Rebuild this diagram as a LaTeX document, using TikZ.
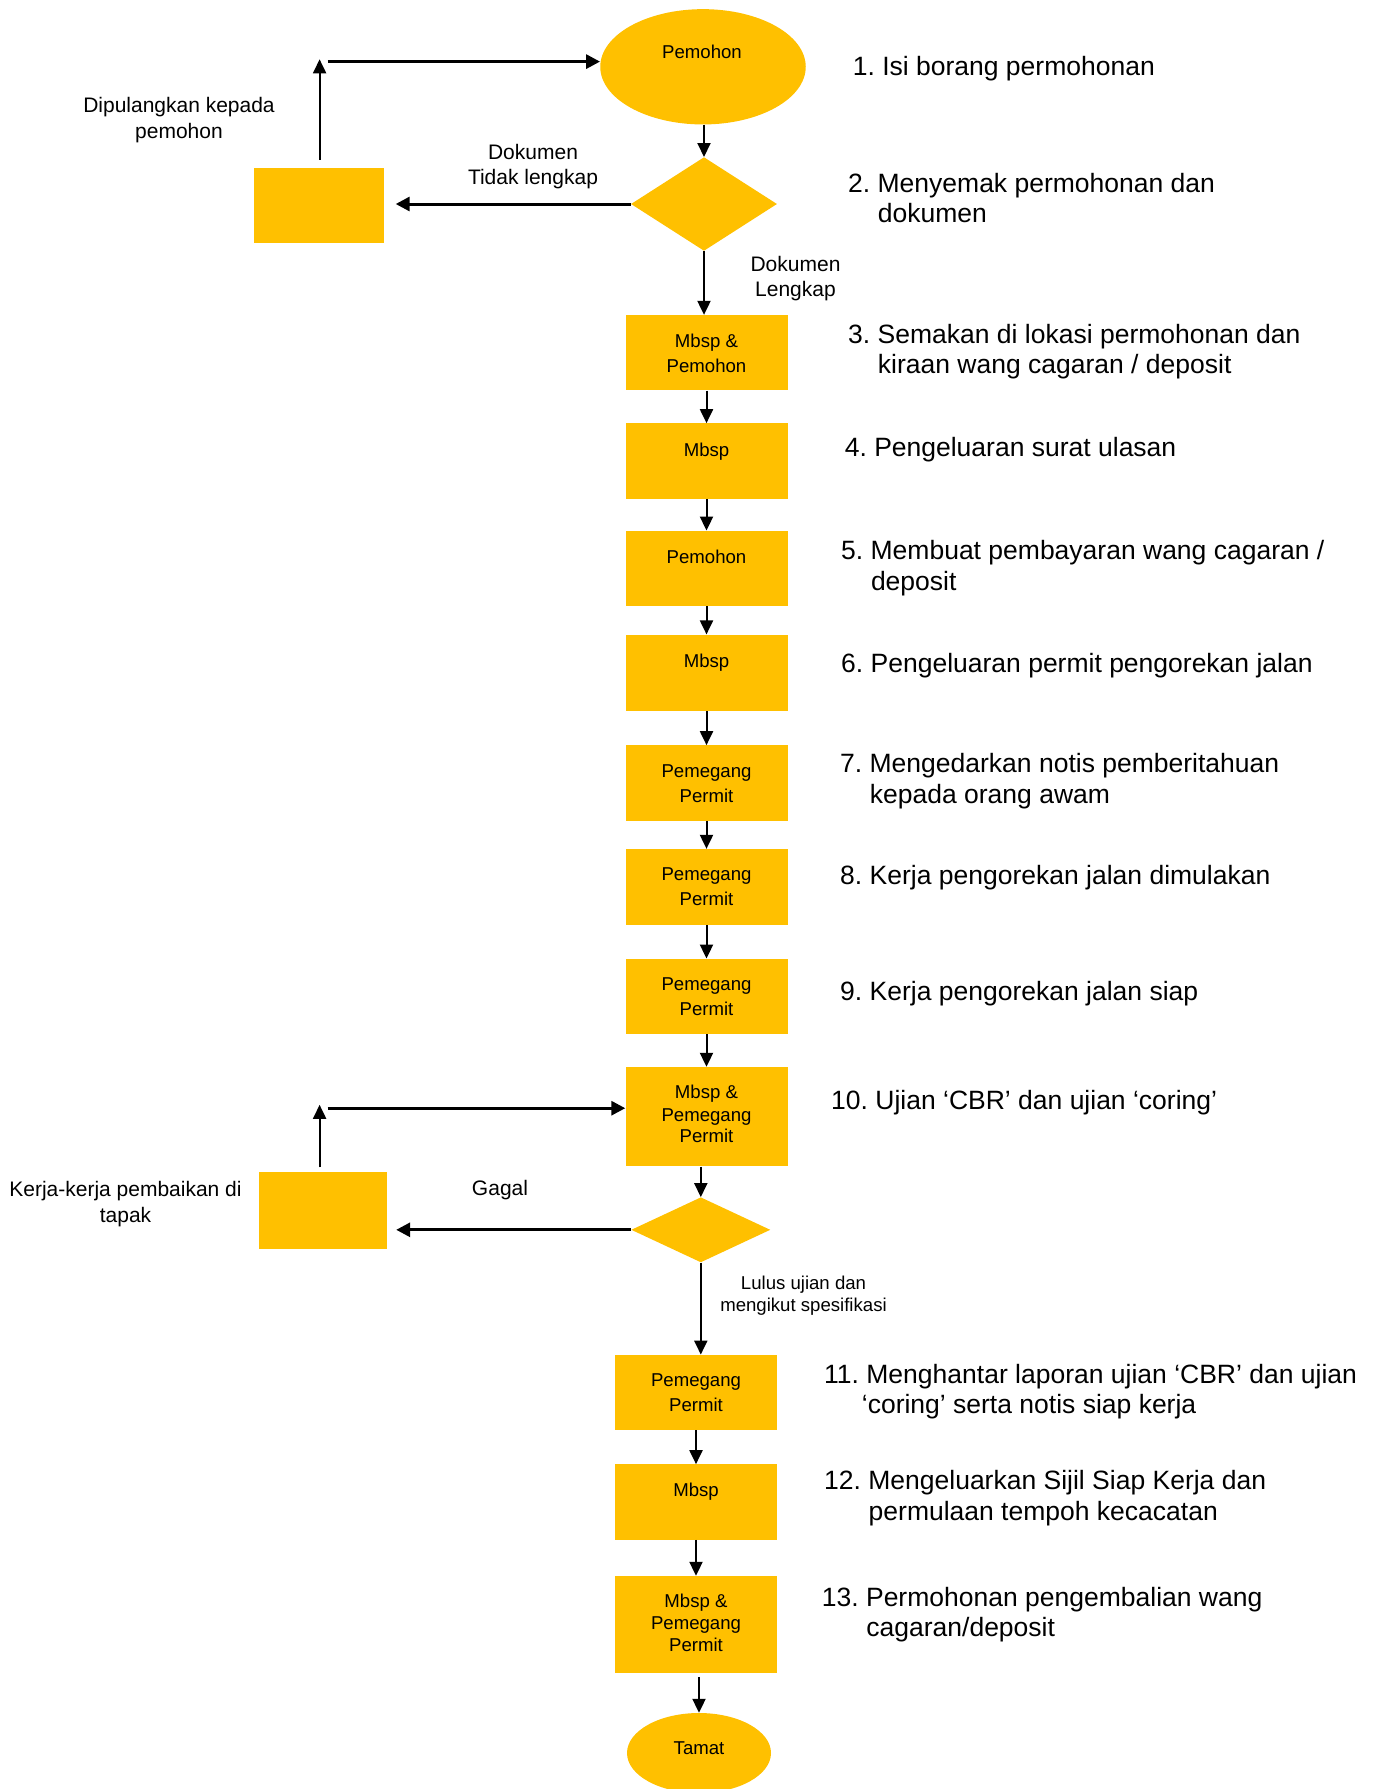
\documentclass[tikz,border=0pt]{standalone}
\usepackage{fontspec}
\setmainfont{Liberation Sans}
\usetikzlibrary{arrows.meta,shapes.geometric}
\definecolor{gold}{HTML}{FFC000}
\frenchspacing
\begin{document}
\begin{tikzpicture}[x=1pt,y=-1pt,
  box/.style={rectangle, fill=gold, draw=none, minimum width=162pt, inner sep=0pt},
  sidebox/.style={rectangle, fill=gold, draw=none, inner sep=0pt},
  oval/.style={ellipse, fill=gold, draw=none, inner sep=0pt},
  dec/.style={diamond, fill=gold, draw=none, inner sep=0pt},
  bt/.style={font=\fontsize{18.6pt}{22pt}\selectfont, anchor=base, inner sep=0pt},
  lb/.style={font=\fontsize{21pt}{25pt}\selectfont, anchor=base, inner sep=0pt},
  st/.style={font=\fontsize{26.5pt}{31pt}\selectfont, anchor=base west, inner sep=0pt},
  arr/.style={-{Triangle[length=14pt,width=13pt]}, line width=2pt},
  harr/.style={-{Triangle[length=14pt,width=14pt]}, line width=3pt},
]
\useasboundingbox (0,0) rectangle (1381,1789);

% shapes
\node[oval, minimum width=205.5pt, minimum height=115.3pt] (e1) at (703,66.8) {};
\node[dec, minimum width=146pt, minimum height=93.6pt] (d1) at (704,204) {};
\node[sidebox, minimum width=130pt, minimum height=75.3pt] (L1) at (318.5,205.5) {};
\node[box, minimum height=75.3pt] (b3) at (706.5,352.7) {};
\node[box, minimum height=75.3pt] (b4) at (706.5,461) {};
\node[box, minimum height=75.3pt] (b5) at (706.5,568.4) {};
\node[box, minimum height=76.4pt] (b6) at (706.5,672.8) {};
\node[box, minimum height=75.3pt] (b7) at (706.5,783) {};
\node[box, minimum height=75.5pt] (b8) at (706.5,886.8) {};
\node[box, minimum height=75.3pt] (b9) at (706.5,996.4) {};
\node[box, minimum height=99.4pt] (b10) at (706.5,1116.7) {};
\node[dec, minimum width=139pt, minimum height=65pt] (d2) at (700.8,1229.8) {};
\node[sidebox, minimum width=128pt, minimum height=76.6pt] (L2) at (323,1210.3) {};
\node[box, minimum height=75.3pt] (b11) at (696,1392.4) {};
\node[box, minimum height=75.3pt] (b12) at (696,1502) {};
\node[box, minimum height=97pt] (b13) at (696,1624.5) {};
\node[oval, minimum width=144pt, minimum height=80pt] (eT) at (699,1753) {};

% texts in shapes
\node[bt] (t1) at (702,58.5) {Pemohon};
\node[bt] (t3a) at (706.5,347) {Mbsp \&};
\node[bt] (t3b) at (706.5,372) {Pemohon};
\node[bt] (t4) at (706.5,456) {Mbsp};
\node[bt] (t5) at (706.5,563.5) {Pemohon};
\node[bt] (t6) at (706.5,667.5) {Mbsp};
\node[bt] (t7a) at (706.5,777) {Pemegang};
\node[bt] (t7b) at (706.5,802) {Permit};
\node[bt] (t8a) at (706.5,880.7) {Pemegang};
\node[bt] (t8b) at (706.5,905.8) {Permit};
\node[bt] (t9a) at (706.5,990.5) {Pemegang};
\node[bt] (t9b) at (706.5,1015.6) {Permit};
\node[bt] (t10a) at (706.5,1098.7) {Mbsp \&};
\node[bt] (t10b) at (706.5,1121.7) {Pemegang};
\node[bt] (t10c) at (706.5,1142.3) {Permit};
\node[bt] (t11a) at (696,1386.7) {Pemegang};
\node[bt] (t11b) at (696,1411.7) {Permit};
\node[bt] (t12) at (696,1496) {Mbsp};
\node[bt] (t13a) at (696,1607) {Mbsp \&};
\node[bt] (t13b) at (696,1629.5) {Pemegang};
\node[bt] (t13c) at (696,1651) {Permit};
\node[bt] (tT) at (699,1754.5) {Tamat};

% labels
\node[lb] (l1a) at (179,112.5) {Dipulangkan kepada};
\node[lb] (l1b) at (179,138.7) {pemohon};
\node[lb] (l2a) at (533,159.3) {Dokumen};
\node[lb] (l2b) at (533,184.5) {Tidak lengkap};
\node[lb] (l3a) at (795.5,271) {Dokumen};
\node[lb] (l3b) at (795.5,296.2) {Lengkap};
\node[lb] (l4a) at (125.5,1196.5) {Kerja-kerja pembaikan di};
\node[lb] (l4b) at (125.5,1222) {tapak};
\node[lb] (l5) at (500,1195.5) {Gagal};
\node[bt] (l6a) at (803.5,1289.7) {Lulus ujian dan};
\node[bt] (l6b) at (803.5,1311.2) {mengikut spesifikasi};

% step descriptions
\node[st] (s1) at (852.6,75.5) {1. Isi borang permohonan};
\node[st] (s2a) at (848,192) {2. Menyemak permohonan dan};
\node[st] (s2b) at (877.7,222.7) {dokumen};
\node[st] (s3a) at (848,343.7) {3. Semakan di lokasi permohonan dan};
\node[st] (s3b) at (877.7,373.4) {kiraan wang cagaran / deposit};
\node[st] (s4) at (844.6,456.7) {4. Pengeluaran surat ulasan};
\node[st] (s5a) at (841,559.4) {5. Membuat pembayaran wang cagaran /};
\node[st] (s5b) at (870.8,590) {deposit};
\node[st] (s6) at (841,672.4) {6. Pengeluaran permit pengorekan jalan};
\node[st] (s7a) at (840,772.8) {7. Mengedarkan notis pemberitahuan};
\node[st] (s7b) at (869.7,803.6) {kepada orang awam};
\node[st] (s8) at (840,884.7) {8. Kerja pengorekan jalan dimulakan};
\node[st] (s9) at (840,1000) {9. Kerja pengorekan jalan siap};
\node[st] (s10) at (831,1109.5) {10. Ujian ‘CBR’ dan ujian ‘coring’};
\node[st] (s11a) at (824,1383.4) {11. Menghantar laporan ujian ‘CBR’ dan ujian};
\node[st] (s11b) at (861.7,1413) {‘coring’ serta notis siap kerja};
\node[st] (s12a) at (824,1489.6) {12. Mengeluarkan Sijil Siap Kerja dan};
\node[st] (s12b) at (868.5,1520.4) {permulaan tempoh kecacatan};
\node[st] (s13a) at (821.7,1606) {13. Permohonan pengembalian wang};
\node[st] (s13b) at (866.2,1636.8) {cagaran/deposit};

% connector helper coordinates
\coordinate (c1) at (319.6,59.3);
\coordinate (c2) at (327.6,61.6);
\coordinate (c3) at (319.6,1104.8);
\coordinate (c4) at (327.6,1108.2);

% connectors
\draw[arr] (d1.north |- e1.south) -- (d1.north);
\draw[harr, shorten >=12pt] (d1.west) -- (d1.west -| L1.east);
\draw[arr, shorten <=8pt] (L1.north -| c1) -- (c1);
\draw[harr] (c2) -- (c2 -| e1.west);
\draw[arr] (d1.south) -- (d1.south |- b3.north);
\draw[arr] (b3.south) -- (b4.north);
\draw[arr] (b4.south) -- (b5.north);
\draw[arr] (b5.south) -- (b6.north);
\draw[arr] (b6.south) -- (b7.north);
\draw[arr] (b7.south) -- (b8.north);
\draw[arr] (b8.south) -- (b9.north);
\draw[arr] (b9.south) -- (b10.north);
\draw[arr] (d2.north |- b10.south) -- (d2.north);
\draw[harr, shorten >=9pt] (d2.west) -- (d2.west -| L2.east);
\draw[arr, shorten <=4.5pt] (L2.north -| c3) -- (c3);
\draw[harr] (c4) -- (c4 -| b10.west);
\draw[arr] (d2.south) -- (d2.south |- b11.north);
\draw[arr] (b11.south) -- (b12.north);
\draw[arr] (b12.south) -- (b13.north);
\draw[arr, shorten <=4pt] (eT.north |- b13.south) -- (eT.north);
\end{tikzpicture}
\end{document}
